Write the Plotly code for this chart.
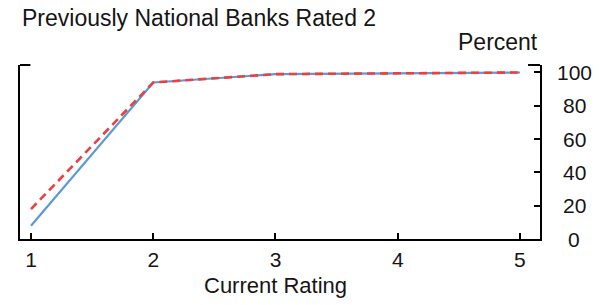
import plotly.graph_objects as go

ratings = [1, 2, 3, 4, 5]
series_blue = [8, 94, 99, 99.5, 100]
series_red = [18, 94, 99, 99.5, 100]
y_ticks = [0, 20, 40, 60, 80, 100]

title_text = "Previously National Banks Rated 2"
x_title = "Current Rating"
y_unit = "Percent"

fig = go.Figure()
fig.add_trace(go.Scatter(x=ratings, y=series_blue, mode="lines",
                         line=dict(color="#5b9bd5", width=2.2), showlegend=False))
fig.add_trace(go.Scatter(x=ratings, y=series_red, mode="lines",
                         line=dict(color="#e8413f", width=2.6, dash="8px,5px"), showlegend=False))

font = dict(family="Liberation Sans, Arial", size=23, color="#151515")
xt_font = dict(family="Liberation Sans, Arial", size=22, color="#151515")
tick_font = dict(family="Liberation Sans, Arial", size=21, color="#151515")

annotations = [
    dict(text=title_text, xref="paper", yref="paper", x=0, y=1, xanchor="left",
         yanchor="middle", yshift=65 - 18, showarrow=False, font=font),
    dict(text=y_unit, xref="paper", yref="paper", x=1, y=1, xanchor="right",
         yanchor="middle", yshift=65 - 42, showarrow=False, font=font),
    dict(text=x_title, xref="x", yref="paper", x=3, y=0, xanchor="center",
         yanchor="middle", yshift=-46, showarrow=False, font=xt_font),
]
for v in y_ticks:
    annotations.append(dict(text=str(v), xref="paper", yref="y", x=1, y=v,
                            xanchor="center", yanchor="middle", xshift=34,
                            showarrow=False, font=tick_font))

fig.update_layout(
    width=600, height=305,
    margin=dict(l=20, r=60, t=65, b=66),
    plot_bgcolor="white", paper_bgcolor="white",
    font=font,
    xaxis=dict(range=[0.91, 5.164], tickvals=ratings, ticks="inside", ticklen=6,
               tickcolor="black", tickwidth=1.5, showline=True, linecolor="black", linewidth=2,
               mirror=False, showgrid=False, zeroline=False, ticklabelstandoff=1,
               tickfont=tick_font),
    yaxis=dict(range=[0, 104.5], tickvals=y_ticks, side="right", ticks="inside",
               ticklen=6, tickcolor="black", tickwidth=1.5, showline=True, linecolor="black",
               linewidth=2, mirror=True, showgrid=False, zeroline=False,
               showticklabels=False),
    shapes=[
        dict(type="line", xref="paper", yref="paper", x0=0, x1=0.02, y0=1, y1=1,
             line=dict(color="black", width=2)),
        dict(type="line", xref="paper", yref="paper", x0=0.977, x1=1, y0=1, y1=1,
             line=dict(color="black", width=2)),
    ],
    annotations=annotations,
)

fig.write_html("out.html")
